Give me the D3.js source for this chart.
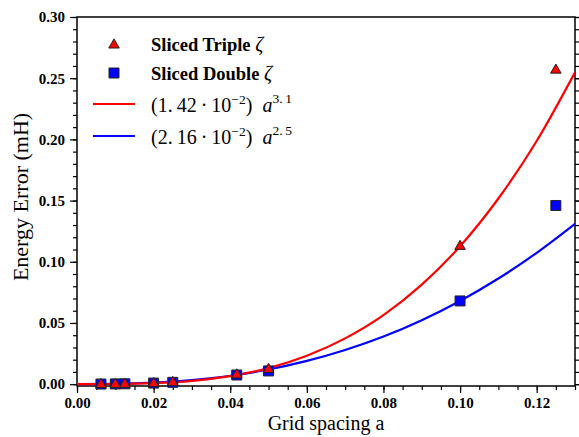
<!DOCTYPE html>
<meta charset="utf-8">
<style>
body { margin: 0; background: #fff; }
text { font-family: "Liberation Serif", "DejaVu Serif", serif; }
.tick text { font-size: 15px; font-weight: bold; }
</style>
<svg width="579" height="437"></svg>
<script src="https://cdn.jsdelivr.net/npm/d3@7/dist/d3.min.js"></script>
<script>

// grid spacings and energy errors (mH)
var spacing = [0.00625, 0.01, 0.0125, 0.02, 0.025, 0.0417, 0.05, 0.10, 0.125];
var tripleErr = [0.0001, 0.0002, 0.0003, 0.0009, 0.0018, 0.0080, 0.0125, 0.113, 0.257];
var doubleErr = [0.0001, 0.0002, 0.0003, 0.0009, 0.0015, 0.0075, 0.0108, 0.068, 0.146];

// fitted curves
var fitX = [0, 0.01, 0.02, 0.03, 0.04, 0.05, 0.06, 0.07, 0.08, 0.09, 0.10, 0.11, 0.12, 0.13];
var fitTriple = [0, 0.0001, 0.0008, 0.0027, 0.0066, 0.0131, 0.0232, 0.0374, 0.0564, 0.0813, 0.1127, 0.1517, 0.1987, 0.2548];
var fitDouble = [0, 0.0002, 0.0012, 0.0034, 0.0069, 0.0120, 0.0190, 0.0279, 0.0389, 0.0523, 0.0680, 0.0863, 0.1073, 0.1310];

var xTicks = [0, 0.02, 0.04, 0.06, 0.08, 0.10, 0.12];
var yTicks = [0, 0.05, 0.10, 0.15, 0.20, 0.25, 0.30];

var svg = d3.select("svg"),
    margin = {top: 17, right: 4, bottom: 51, left: 77},
    width = 579 - margin.left - margin.right,
    height = 437 - margin.top - margin.bottom,
    g = svg.append("g").attr("transform", "translate(" + margin.left + "," + margin.top + ")");

var x = d3.scaleLinear().domain([0, 0.13]).range([0, width]);
var y = d3.scaleLinear().domain([-0.0015, 0.30]).range([height, 0]);

var xMinor = d3.range(0, 0.1301, 0.005);
var yMinor = d3.range(0, 0.3001, 0.01);

// minor ticks
g.append("g").attr("transform", "translate(0," + height + ")")
    .call(d3.axisBottom(x).tickValues(xMinor).tickSize(4).tickFormat(""))
    .call(function(s) { s.select(".domain").remove(); });
g.append("g")
    .call(d3.axisLeft(y).tickValues(yMinor).tickSize(4).tickFormat(""))
    .call(function(s) { s.select(".domain").remove(); });
g.append("g").attr("transform", "translate(" + width + ",0)")
    .call(d3.axisRight(y).tickValues(yMinor).tickSize(4).tickFormat(""))
    .call(function(s) { s.select(".domain").remove(); });

// major ticks
g.append("g").attr("transform", "translate(0," + height + ")")
    .call(d3.axisBottom(x).tickValues(xTicks).tickSize(7).tickPadding(4).tickFormat(d3.format(".2f")))
    .call(function(s) { s.select(".domain").remove(); s.selectAll("text").attr("fill", "#000"); });
g.append("g")
    .call(d3.axisLeft(y).tickValues(yTicks).tickSize(7).tickPadding(5).tickFormat(d3.format(".2f")))
    .call(function(s) { s.select(".domain").remove(); s.selectAll("text").attr("fill", "#000"); });
g.append("g").attr("transform", "translate(" + width + ",0)")
    .call(d3.axisRight(y).tickValues(yTicks).tickSize(7).tickFormat(""))
    .call(function(s) { s.select(".domain").remove(); });

g.selectAll(".tick line").attr("stroke", "#000").attr("stroke-width", 1.2);

// frame
g.append("rect")
    .attr("width", width).attr("height", height)
    .attr("fill", "none").attr("stroke", "#000").attr("stroke-width", 1.5);

g.append("clipPath").attr("id", "clip")
  .append("rect").attr("width", width).attr("height", height);

var line = d3.line()
    .x(function(d) { return x(d[0]); })
    .y(function(d) { return y(d[1]); })
    .curve(d3.curveMonotoneX);

var plot = g.append("g").attr("clip-path", "url(#clip)");

plot.append("path")
    .datum(d3.zip(fitX, fitDouble))
    .attr("d", line).attr("fill", "none")
    .attr("stroke", "#0000ff").attr("stroke-width", 2.2);
plot.append("path")
    .datum(d3.zip(fitX, fitTriple))
    .attr("d", line).attr("fill", "none")
    .attr("stroke", "#ff0000").attr("stroke-width", 2.2);

var square = d3.symbol().type(d3.symbolSquare).size(100);
var triangle = d3.symbol().type(d3.symbolTriangle).size(48);

g.selectAll(".dbl")
    .data(d3.zip(spacing, doubleErr))
  .enter().append("path")
    .attr("class", "dbl")
    .attr("d", square)
    .attr("transform", function(d) { return "translate(" + x(d[0]) + "," + y(d[1]) + ")"; })
    .attr("fill", "#0000ff").attr("stroke", "#222").attr("stroke-width", 1);

g.selectAll(".tri")
    .data(d3.zip(spacing, tripleErr))
  .enter().append("path")
    .attr("class", "tri")
    .attr("d", triangle)
    .attr("transform", function(d) { return "translate(" + x(d[0]) + "," + (y(d[1]) + 0.5) + ")"; })
    .attr("fill", "#ff0000").attr("stroke", "#222").attr("stroke-width", 1);

// legend
var lg = svg.append("g");
lg.append("path").attr("d", triangle)
    .attr("transform", "translate(114,45)")
    .attr("fill", "#ff0000").attr("stroke", "#222");
lg.append("path").attr("d", square)
    .attr("transform", "translate(114,73)")
    .attr("fill", "#0000ff").attr("stroke", "#222");
lg.append("line").attr("x1", 93).attr("x2", 135).attr("y1", 104).attr("y2", 104)
    .attr("stroke", "#ff0000").attr("stroke-width", 2.2);
lg.append("line").attr("x1", 93).attr("x2", 135).attr("y1", 136).attr("y2", 136)
    .attr("stroke", "#0000ff").attr("stroke-width", 2.2);

function nameLabel(yy, name) {
  var t = lg.append("text").attr("x", 151).attr("y", yy)
      .style("font-size", "18.5px");
  t.append("tspan").attr("font-weight", "bold").text(name + " ");
  t.append("tspan").attr("font-style", "italic").style("font-size", "20px").text("ζ");
}
nameLabel(51, "Sliced Triple");
nameLabel(80, "Sliced Double");

function fitLabel(yy, coef, expo) {
  var t = lg.append("text").attr("x", 151).attr("y", yy).style("font-size", "20px");
  t.append("tspan").text("(" + coef + "\u2009·\u200910");
  t.append("tspan").attr("dy", -8).style("font-size", "13.5px").text("−2");
  t.append("tspan").attr("dy", 8).text(")\u2002");
  t.append("tspan").attr("font-style", "italic").text("a");
  t.append("tspan").attr("dy", -9).style("font-size", "13.5px").text(expo);
}
fitLabel(112, "1.\u200942", "3.\u20091");
fitLabel(144, "2.\u200916", "2.\u20095");

// axis titles
svg.append("text")
    .attr("x", 326).attr("y", 430)
    .attr("text-anchor", "middle")
    .style("font-size", "20px")
    .text("Grid spacing a");

svg.append("text")
    .attr("transform", "translate(28,197) rotate(-90)")
    .attr("text-anchor", "middle")
    .style("font-size", "22px")
    .text("Energy Error (mH)");

</script>
